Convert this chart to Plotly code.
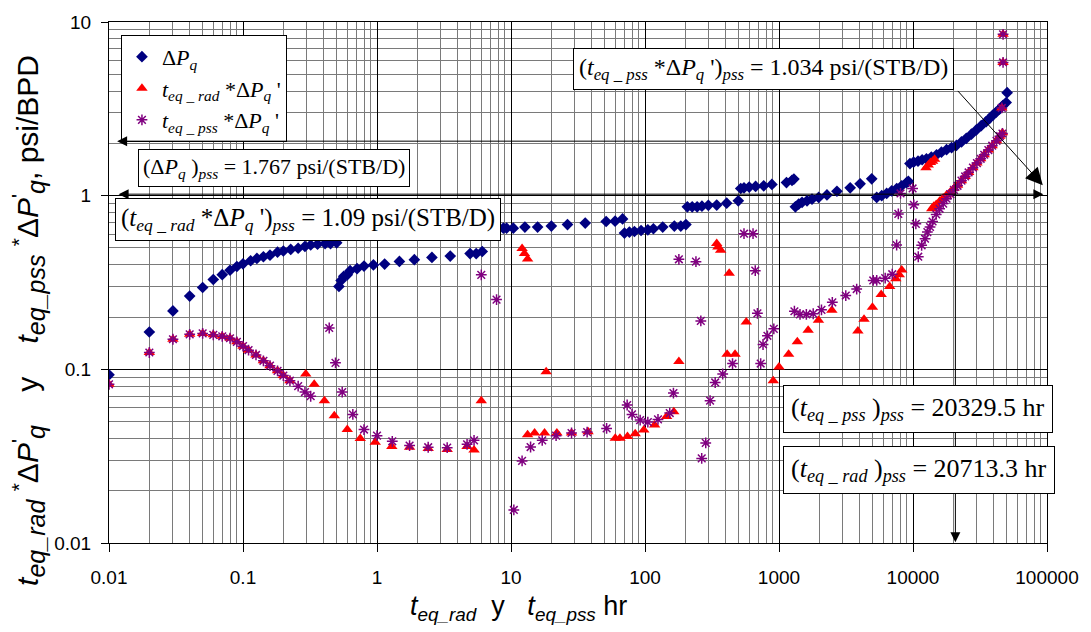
import math
import plotly.graph_objects as go

# ---------------- data ----------------
dp_x = [0.01, 0.02, 0.03, 0.04, 0.05, 0.06, 0.07, 0.08, 0.09, 0.1, 0.114, 0.127, 0.142, 0.159, 0.181, 0.2, 0.227, 0.258, 0.29, 0.32, 0.36, 0.41, 0.45, 0.5,
        0.52, 0.54, 0.565, 0.6, 0.63, 0.71, 0.8, 0.94, 1.14, 1.47, 1.9, 2.57, 3.52, 4.95, 5.5, 6.1,
        8.77, 9.27, 10.4, 12.7, 15.8, 20.0, 26.4, 35.8, 51.3, 59.8, 68.0,
        70.3, 76.5, 83.4, 93.5, 105, 115.5, 135.6, 165.6, 185, 202,
        207, 225, 245, 266, 297, 343, 407, 497,
        518, 548, 599, 669, 769, 885, 1137, 1251, 1292,
        1325, 1403, 1486, 1619, 1763, 1977, 2280, 2706, 3398, 4030, 4920,
        5360, 5840, 6360, 6930, 7560, 8230, 8960, 9230,
        9490, 10100, 10900, 11700, 12600, 13700, 15000, 16300, 17800, 19400, 21100, 23000, 25000, 27300, 29700, 32300, 35200, 37300, 39500, 41800, 44200, 46800, 49600, 50400]
dp_y = [0.093, 0.164, 0.217, 0.264, 0.296, 0.329, 0.351, 0.372, 0.391, 0.405, 0.422, 0.435, 0.445, 0.454, 0.473, 0.48, 0.49, 0.498, 0.51, 0.52, 0.525, 0.53, 0.53, 0.535,
        0.30, 0.325, 0.343, 0.35, 0.37, 0.38, 0.393, 0.399, 0.404, 0.418, 0.428, 0.441, 0.449, 0.464, 0.464, 0.477,
        0.65, 0.65, 0.65, 0.659, 0.659, 0.668, 0.682, 0.695, 0.71, 0.713, 0.735,
        0.609, 0.617, 0.622, 0.63, 0.636, 0.645, 0.659, 0.668, 0.668, 0.682,
        0.863, 0.863, 0.863, 0.87, 0.88, 0.883, 0.905, 0.934,
        1.10, 1.11, 1.12, 1.13, 1.14, 1.16, 1.19, 1.225, 1.246,
        0.863, 0.895, 0.915, 0.934, 0.955, 0.977, 1.01, 1.06, 1.11, 1.17, 1.25,
        0.977, 1.0, 1.03, 1.065, 1.10, 1.14, 1.19, 1.21,
        1.53, 1.56, 1.58, 1.61, 1.63, 1.67, 1.72, 1.78, 1.84, 1.89, 1.95, 2.04, 2.14, 2.26, 2.39, 2.53, 2.67, 2.79, 2.91, 3.03, 3.15, 3.3, 3.44, 3.92]

rad_x = [0.01, 0.02, 0.03, 0.04, 0.05, 0.06, 0.07, 0.08, 0.09, 0.1, 0.11, 0.125, 0.142, 0.159, 0.181, 0.2, 0.224,
         0.294, 0.34, 0.405, 0.48, 0.6, 0.75, 0.97, 1.29, 1.75, 2.41, 3.34, 4.7, 5.3, 6.0,
         12.1, 12.6, 13.3, 18.3,
         13.3, 15.0, 17.8, 22.0, 28.3, 37.6, 60, 65, 74, 84.5, 98, 118, 145, 164, 179,
         343, 350, 367, 425, 410, 470, 570, 906, 1000, 1180, 1370, 1650, 1970, 2480,
         3880, 4310, 4980, 5790, 6700, 7450, 7900, 8240,
         12500, 13000, 13500, 14000, 14500,
         13800, 14300, 14900, 15800, 16800, 17800, 19000, 20200, 21500, 23000, 24500, 26000, 28000, 30000, 32000, 34000, 36500, 39000, 42000, 44500, 46500,
         46000, 47000, 47000]
rad_y = [0.082, 0.125, 0.149, 0.159, 0.161, 0.158, 0.155, 0.151, 0.144, 0.136, 0.129, 0.121, 0.112, 0.105, 0.098, 0.092, 0.086,
         0.094, 0.082, 0.066, 0.054, 0.045, 0.040, 0.038, 0.036, 0.0356, 0.035, 0.0345, 0.036, 0.0343, 0.066,
         0.496, 0.464, 0.432, 0.097,
         0.042, 0.043, 0.043, 0.043, 0.043, 0.0437, 0.0401, 0.0401, 0.041, 0.0425, 0.0448, 0.0478, 0.0535, 0.057, 0.111,
         0.53, 0.507, 0.485, 0.357, 0.122, 0.122, 0.187, 0.086, 0.103, 0.122, 0.144, 0.168, 0.192, 0.219,
         0.166, 0.194, 0.228, 0.27, 0.30, 0.332, 0.35, 0.373,
         1.45, 1.5, 1.55, 1.58, 1.62,
         0.84, 0.87, 0.89, 0.93, 0.97, 1.01, 1.05, 1.1, 1.15, 1.22, 1.29, 1.36, 1.45, 1.54, 1.63, 1.72, 1.83, 1.94, 2.07, 2.2, 2.3,
         3.2, 5.85, 8.49]

pss_x = [0.01, 0.02, 0.03, 0.04, 0.05, 0.06, 0.07, 0.08, 0.09, 0.1, 0.11, 0.125, 0.142, 0.159, 0.181, 0.2, 0.224,
         0.258, 0.29, 0.32, 0.44, 0.49, 0.55, 0.66, 0.8, 1.0, 1.3, 1.75, 2.41, 3.34, 4.7, 5.3,
         6.0, 7.8, 10.5, 12.1, 14.0, 17.1, 21.7, 28.3, 37.0, 51.7, 73.6, 80, 92, 105, 125, 153, 163,
         179, 240, 261, 265, 284, 306, 334, 380, 450, 548, 640, 665, 690, 730, 760, 820, 915,
         1303, 1435, 1600, 1800, 2075, 2500, 3150, 3800, 5050, 5360, 6200, 7000, 7550,
         7770, 8070, 9930, 10140, 10500, 10950, 11600, 12300, 12800,
         13400, 14000, 14900, 15800, 16800, 17800, 19000, 20200, 21500, 23000, 24500, 26000, 28000, 30000, 32000, 34000, 36500, 39000, 42000, 44500, 46500,
         46000, 47000, 47000]
pss_y = [0.082, 0.125, 0.149, 0.159, 0.161, 0.158, 0.155, 0.151, 0.144, 0.136, 0.129, 0.121, 0.112, 0.105, 0.098, 0.092, 0.086,
         0.08, 0.074, 0.070, 0.173, 0.109, 0.074, 0.055, 0.045, 0.0415, 0.0385, 0.0364, 0.0356, 0.0354, 0.037, 0.039,
         0.35, 0.252, 0.0155, 0.0297, 0.0357, 0.039, 0.0415, 0.043, 0.0435, 0.0457, 0.0623, 0.055, 0.051, 0.0497, 0.0515, 0.056, 0.073,
         0.43, 0.417, 0.19, 0.0307, 0.0377, 0.066, 0.084, 0.094, 0.108, 0.604, 0.604, 0.37, 0.21, 0.108, 0.139, 0.156, 0.171,
         0.216, 0.207, 0.207, 0.209, 0.22, 0.243, 0.266, 0.29, 0.325, 0.325, 0.335, 0.353, 0.52,
         0.785, 1.03, 1.10, 0.886, 0.688, 0.445, 0.518, 0.565, 0.617,
         0.66, 0.71, 0.78, 0.84, 0.9, 0.96, 1.02, 1.08, 1.14, 1.22, 1.29, 1.36, 1.45, 1.54, 1.63, 1.72, 1.83, 1.94, 2.07, 2.2, 2.28,
         3.2, 5.85, 8.49]

x_tickvals = [0.01, 0.1, 1, 10, 100, 1000, 10000, 100000]
x_ticktext = ["0.01", "0.1", "1", "10", "100", "1000", "10000", "100000"]
y_tickvals = [0.01, 0.1, 1, 10]
y_ticktext = ["0.01", "0.1", "1", "10"]

dp_pss = 1.767
rad_der_pss = 1.09
pss_der_pss = 1.034
t_pss_pss = 20329.5
t_rad_pss = 20713.3

SERIF = "Liberation Serif, Times New Roman, serif"
SANS = "Liberation Sans, Arial, sans-serif"

fig = go.Figure()
fig.add_trace(go.Scatter(
    x=dp_x, y=dp_y, mode="markers", name="Δ<i>P</i><sub><i>q</i></sub>",
    marker=dict(symbol="diamond", size=9, color="#000080", line=dict(width=0)), legendrank=1))
fig.add_trace(go.Scatter(
    x=rad_x, y=rad_y, mode="markers",
    name="<i>t</i><sub><i>eq _ rad</i></sub> *Δ<i>P</i><sub><i>q</i></sub> '",
    marker=dict(symbol="triangle-up", size=10, color="#FF0000", line=dict(width=0)), legendrank=2))
fig.add_trace(go.Scatter(
    x=pss_x, y=pss_y, mode="markers",
    name="<i>t</i><sub><i>eq _ pss</i></sub> *Δ<i>P</i><sub><i>q</i></sub> '",
    marker=dict(symbol="asterisk-open", size=9, color="#800080", line=dict(width=1.5, color="#800080")), legendrank=3))

L = math.log10
ann = []
# arrow lines
def arrow(xh, yh, xt, yt, head=2, size=2.0, side="end", width=1):
    ann.append(dict(x=L(xh), y=L(yh), ax=L(xt), ay=L(yt), xref="x", yref="y", axref="x", ayref="y",
                    text="", showarrow=True, arrowhead=head, arrowsize=size, arrowwidth=width,
                    arrowcolor="black", arrowside=side, standoff=0, startstandoff=0))

arrow(0.0115, 2.06, t_rad_pss, 2.06)
arrow(t_rad_pss, 0.0101, t_rad_pss, 2.06)
arrow(94000, 1.02, 0.0115, 1.02, side="end+start")
arrow(93000, 1.15, 21100, 4.09, head=2, size=3.4, width=1)

def box(px_x, px_y, text, size, pad=4):
    ann.append(dict(x=(px_x - 109) / 942, y=(543 - px_y) / 527, xref="paper", yref="paper",
                    text=text, showarrow=False, xanchor="center", yanchor="middle",
                    font=dict(family=SERIF, size=size, color="black"),
                    bgcolor="white", bordercolor="black", borderwidth=1, borderpad=pad))

box(274.5, 163.5, "(Δ<i>P</i><sub><i>q</i></sub> )<sub><i>pss</i></sub> = %.3f psi/(STB/D)" % dp_pss, 22)
box(308.5, 216, "(<i>t</i><sub><i>eq _ rad</i></sub> *Δ<i>P</i><sub><i>q</i></sub> ')<sub><i>pss</i></sub> = %.2f psi/(STB/D)" % rad_der_pss, 25, 5)
box(766, 63.5, "(<i>t</i><sub><i>eq _ pss</i></sub> *Δ<i>P</i><sub><i>q</i></sub> ')<sub><i>pss</i></sub> = %.3f psi/(STB/D)" % pss_der_pss, 24, 5)
box(921.5, 407.5, "(<i>t</i><sub><i>eq _ pss</i></sub> )<sub><i>pss</i></sub> = %.1f hr" % t_pss_pss, 26, 7)
box(922.5, 469, "(<i>t</i><sub><i>eq _ rad</i></sub> )<sub><i>pss</i></sub> = %.1f hr" % t_rad_pss, 26, 7)

# axis titles
SUB = "<sub><span style='font-size:25px'><i>%s</i></span></sub>"
ann.append(dict(x=(28 - 109) / 942, y=(543 - 318) / 527, xref="paper", yref="paper", showarrow=False,
                textangle=-90, xanchor="center", yanchor="middle",
                font=dict(family=SANS, size=30, color="black"),
                text="<i>t</i>" + SUB % "eq_rad" + " <sup>*</sup>Δ<i>P</i><sup>'</sup>" + SUB % "q"
                     + "    y    <i>t</i>" + SUB % "eq_pss" + " <sup>*</sup>Δ<i>P</i><sup>'</sup>" + SUB % "q"
                     + ", psi/BPD"))
ann.append(dict(x=(520 - 109) / 942, y=(543 - 609) / 527, xref="paper", yref="paper", showarrow=False,
                xanchor="center", yanchor="middle",
                font=dict(family=SANS, size=27, color="black"),
                text="<i>t</i><sub><i>eq_rad</i></sub>  y   <i>t</i><sub><i>eq_pss</i></sub> hr"))

fig.update_layout(
    width=1091, height=632,
    margin=dict(l=109, r=40, t=16, b=89),
    paper_bgcolor="white", plot_bgcolor="white",
    annotations=ann,
    legend=dict(x=(121 - 109) / 942, y=(543 - 29) / 527, xanchor="left", yanchor="top",
                bgcolor="white", bordercolor="black", borderwidth=1,
                font=dict(family=SERIF, size=22, color="black"), tracegroupgap=2),
)
fig.update_xaxes(type="log", range=[-2, 5], tickvals=x_tickvals, ticktext=x_ticktext,
                 showgrid=True, gridcolor="black", gridwidth=1,
                 minor=dict(dtick="D1", showgrid=True, gridcolor="#7a7a7a", gridwidth=1, ticks=""),
                 showline=True, linecolor="black", linewidth=1, mirror=True,
                 ticks="outside", ticklen=8, tickcolor="black", ticklabelstandoff=9,
                 tickfont=dict(family=SANS, size=19, color="black"), zeroline=False)
fig.update_yaxes(type="log", range=[-2, 1], tickvals=y_tickvals, ticktext=y_ticktext,
                 showgrid=True, gridcolor="black", gridwidth=1,
                 minor=dict(dtick="D1", showgrid=True, gridcolor="#7a7a7a", gridwidth=1, ticks=""),
                 showline=True, linecolor="black", linewidth=1, mirror=True,
                 ticks="outside", ticklen=7, tickcolor="black", ticklabelstandoff=6,
                 tickfont=dict(family=SANS, size=19, color="black"), zeroline=False)

fig.write_html("out.html")
